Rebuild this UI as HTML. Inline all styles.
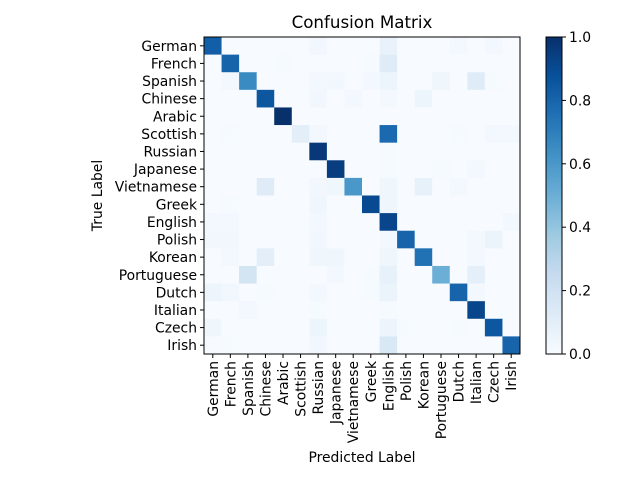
<!DOCTYPE html>
<html><head><meta charset="utf-8"><style>body{margin:0;background:#fff}svg{display:block}text{font-family:"DejaVu Sans","Liberation Sans",sans-serif;fill:#000}</style></head>
<body>
<svg id="chart" width="640" height="480" xmlns="http://www.w3.org/2000/svg"></svg>
<script>
const labels=["German","French","Spanish","Chinese","Arabic","Scottish","Russian","Japanese","Vietnamese","Greek","English","Polish","Korean","Portuguese","Dutch","Italian","Czech","Irish"];
const cbTicks=[0,0.2,0.4,0.6,0.8,1.0];
const offDiag=[
 [0,6,.03],[0,10,.07],[0,14,.02],[0,16,.02],
 [1,10,.12],[1,4,.01],[1,9,.01],
 [2,1,.02],[2,6,.02],[2,7,.03],[2,9,.02],[2,10,.05],[2,13,.04],[2,15,.12],[2,16,.01],
 [3,6,.03],[3,8,.02],[3,10,.02],[3,12,.05],
 [5,1,.01],[5,6,.02],[5,10,.78],[5,14,.01],[5,16,.02],[5,17,.02],
 [6,10,.01],
 [7,10,.01],[7,15,.02],[7,13,.01],
 [8,3,.12],[8,6,.03],[8,7,.04],[8,10,.04],[8,12,.08],[8,14,.02],
 [9,1,.01],[9,6,.04],[9,10,.04],
 [10,0,.02],[10,1,.02],[10,6,.02],[10,17,.02],
 [11,0,.03],[11,1,.03],[11,6,.03],[11,10,.02],[11,15,.02],[11,16,.06],
 [12,1,.02],[12,3,.1],[12,6,.04],[12,7,.04],[12,10,.04],[12,15,.02],
 [13,2,.18],[13,7,.02],[13,9,.01],[13,10,.08],[13,15,.09],
 [14,0,.05],[14,1,.03],[14,3,.01],[14,6,.02],[14,9,.01],[14,10,.06],[14,15,.02],
 [15,2,.02],[15,6,.01],[15,10,.01],
 [16,0,.04],[16,6,.05],[16,10,.05],[16,11,.01],[16,14,.01],
 [17,1,.01],[17,6,.03],[17,10,.15]
];
const diag=[.82,.8,.65,.85,1.0,.1,.97,.95,.6,.9,.92,.8,.75,.5,.8,.92,.85,.8];

const stops=["#f7fbff","#deebf7","#c6dbef","#9ecae1","#6baed6","#4292c6","#2171b5","#08519c","#08306b"];
function hx(h){return [1,3,5].map(i=>parseInt(h.substr(i,2),16));}
function cmap(v){v=Math.max(0,Math.min(1,v));const p=v*8,i=Math.min(7,Math.floor(p)),f=p-i;const a=hx(stops[i]),b=hx(stops[i+1]);return "rgb("+a.map((x,k)=>Math.round(x+(b[k]-x)*f)).join(",")+")";}
const n=labels.length;
const M=[];for(let r=0;r<n;r++){M.push(new Array(n).fill(0));M[r][r]=diag[r];}
offDiag.forEach(([r,c,v])=>M[r][c]=v);
const X0=204,Y0=37,W=316,H=317,cw=W/n,ch=H/n;
const xS=c=>X0+c*cw, yS=r=>Y0+r*ch;
const svg=document.getElementById('chart');const NS="http://www.w3.org/2000/svg";
function mk(t,a,p){const e=document.createElementNS(NS,t);for(const k in a)e.setAttribute(k,a[k]);(p||svg).appendChild(e);return e;}
for(let r=0;r<n;r++)for(let c=0;c<n;c++){const e=mk('rect',{x:xS(c),y:yS(r),width:cw+0.5,height:ch+0.5,fill:cmap(M[r][c])});

}
mk('rect',{x:X0,y:Y0,width:W,height:H,fill:'none',stroke:'#000','stroke-width':1});
labels.forEach((l,i)=>{
 const cy=yS(i)+ch/2;mk('line',{x1:X0-4,y1:cy,x2:X0,y2:cy,stroke:'#000'});
 const t=mk('text',{x:X0-7,y:cy+5,'text-anchor':'end','font-size':13.9});t.textContent=l;
 
 const cx=xS(i)+cw/2;mk('line',{x1:cx,y1:Y0+H,x2:cx,y2:Y0+H+4,stroke:'#000'});
 const u=mk('text',{x:0,y:0,'text-anchor':'end','font-size':13.9,transform:`translate(${cx+5},${Y0+H+7}) rotate(-90)`});u.textContent=l;
 
});
const CX=546,CW=16;
const defs=mk('defs',{});const g=mk('linearGradient',{id:'cb',x1:0,y1:1,x2:0,y2:0},defs);
stops.forEach((s,i)=>mk('stop',{offset:i/8,'stop-color':s},g));
const cb=mk('rect',{x:CX,y:Y0,width:CW,height:H,fill:'url(#cb)',stroke:'#000','stroke-width':1});

cbTicks.forEach(v=>{const y=Y0+H-v*H;mk('line',{x1:CX+CW,y1:y,x2:CX+CW+4,y2:y,stroke:'#000'});
 const t=mk('text',{x:CX+CW+7,y:y+5,'font-size':13.9});t.textContent=v.toFixed(1);
 });
let t=mk('text',{x:X0+W/2,y:28,'text-anchor':'middle','font-size':16.7});t.textContent="Confusion Matrix";

t=mk('text',{x:X0+W/2,y:462,'text-anchor':'middle','font-size':13.9});t.textContent="Predicted Label";

t=mk('text',{x:0,y:0,'text-anchor':'middle','font-size':13.9,transform:`translate(102,${Y0+H/2}) rotate(-90)`});t.textContent="True Label";

</script>
</body></html>
